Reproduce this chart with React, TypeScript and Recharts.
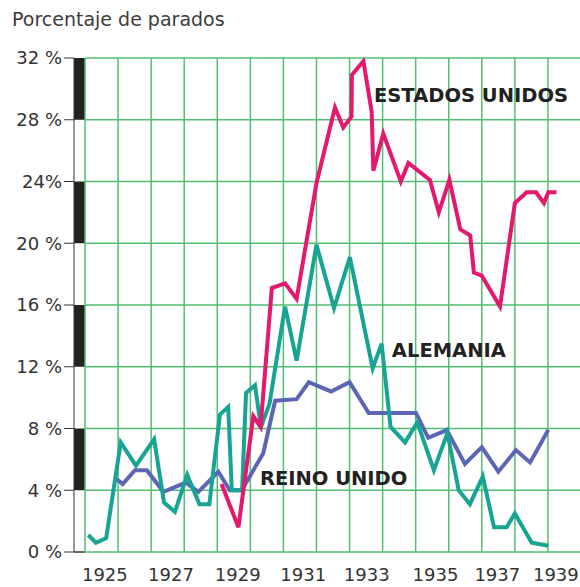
import { LineChart, Line, XAxis, YAxis, ReferenceLine, ReferenceArea, ReferenceDot } from 'recharts';

const usYears = [1929.13, 1929.64, 1930.09, 1930.31, 1930.65, 1931.05, 1931.4, 1932.0, 1932.56, 1932.81, 1933.06, 1933.07, 1933.42, 1933.67, 1933.72, 1934.02, 1934.55, 1934.78, 1935.43, 1935.7, 1936.02, 1936.35, 1936.65, 1936.76, 1937.0, 1937.55, 1938.0, 1938.36, 1938.64, 1938.88, 1939.01, 1939.26];
const usValues = [4.4, 1.6, 8.8, 8.1, 17.1, 17.4, 16.4, 23.9, 28.8, 27.5, 28.2, 30.9, 31.8, 28.5, 24.7, 27.1, 24.0, 25.2, 24.1, 22.0, 24.1, 20.9, 20.5, 18.1, 17.9, 15.9, 22.6, 23.3, 23.3, 22.6, 23.3, 23.3];

const deYears = [1925.1, 1925.33, 1925.64, 1926.08, 1926.54, 1927.09, 1927.39, 1927.72, 1928.09, 1928.46, 1928.76, 1929.08, 1929.33, 1929.44, 1929.75, 1929.87, 1930.14, 1930.32, 1930.58, 1931.05, 1931.4, 1932.0, 1932.53, 1933.01, 1933.7, 1933.97, 1934.24, 1934.68, 1935.05, 1935.55, 1935.96, 1936.3, 1936.64, 1937.03, 1937.37, 1937.75, 1938.0, 1938.51, 1939.01];
const deValues = [1.1, 0.6, 0.9, 7.1, 5.6, 7.3, 3.2, 2.6, 5.0, 3.1, 3.1, 8.9, 9.4, 4.0, 4.0, 10.3, 10.8, 8.1, 9.6, 15.9, 12.4, 19.9, 15.8, 19.1, 11.9, 13.5, 8.1, 7.1, 8.4, 5.3, 7.7, 4.0, 3.1, 4.9, 1.6, 1.6, 2.5, 0.6, 0.4];

const ukYears = [1925.96, 1926.14, 1926.51, 1926.87, 1927.37, 1928.05, 1928.43, 1929.03, 1929.38, 1929.74, 1930.39, 1930.75, 1931.4, 1931.77, 1932.44, 1933.0, 1933.58, 1935.01, 1935.38, 1935.94, 1936.49, 1937.0, 1937.5, 1938.03, 1938.46, 1939.01];
const ukValues = [4.7, 4.4, 5.3, 5.3, 3.9, 4.5, 3.9, 5.2, 4.0, 4.0, 6.4, 9.8, 9.9, 11.0, 10.4, 11.0, 9.0, 9.0, 7.4, 7.9, 5.7, 6.8, 5.2, 6.6, 5.8, 7.9];

const yTicks = [0, 4, 8, 12, 16, 20, 24, 28, 32];
const yTickLabels = ['0 %', '4 %', '8 %', '12 %', '16 %', '20 %', '24%', '28 %', '32 %'];
const gridYears = [1925, 1926, 1927, 1928, 1929, 1930, 1931, 1932, 1933, 1934, 1935, 1936, 1937, 1938, 1939];
// where each year label sits inside its column (the last one is pulled in)
const yearLabelPos = [1925.6, 1927.6, 1929.62, 1931.6, 1933.52, 1935.6, 1937.47, 1939.24];
// black/white scale bar beside the axis
const barBlocks = [[4, 8], [12, 16], [20, 24], [28, 32]];

const seriesLabels = [
  { name: 'ESTADOS UNIDOS', year: 1933.74, value: 29.15 },
  { name: 'ALEMANIA', year: 1934.28, value: 12.61 },
  { name: 'REINO UNIDO', year: 1930.29, value: 4.31 },
];

const X_START = 1924.667;
const X_END = 1940;
const GRID = '#52be72';
const FONT = '"DejaVu Sans", Verdana, sans-serif';

const toPoints = (xs: number[], ys: number[]) => xs.map((x, i) => ({ year: x, value: ys[i] }));

const usData = toPoints(usYears, usValues);
const deData = toPoints(deYears, deValues);
const ukData = toPoints(ukYears, ukValues);

const seriesLabel = (text: string) => (props: any) => {
  const { viewBox } = props;
  return (
    <text x={viewBox.x} y={viewBox.y} fill="#222" fontSize={19.5} fontWeight="bold" fontFamily={FONT}>
      {text}
    </text>
  );
};

export default function App() {
  return (
    <div style={{ position: 'absolute', left: 0, top: 0, width: 580, height: 587, overflow: 'hidden', background: '#fff' }}>
      <div style={{ position: 'absolute', left: 12, top: 8, fontFamily: FONT, fontSize: 19, lineHeight: '22px', color: '#3c3c3c' }}>
        Porcentaje de parados
      </div>
      <LineChart width={581} height={587} margin={{ top: 58, right: 0, bottom: 5, left: 0 }}>
        <XAxis
          dataKey="year"
          type="number"
          domain={[X_START, X_END]}
          ticks={yearLabelPos}
          tickFormatter={(v: number) => String(Math.floor(v))}
          axisLine={false}
          tickLine={false}
          tickSize={0}
          tickMargin={16}
          height={30}
          interval={0}
          tick={{ fill: '#333', fontSize: 18, fontFamily: FONT }}
          allowDataOverflow
        />
        <YAxis
          type="number"
          domain={[0, 32]}
          ticks={yTicks}
          tickFormatter={(v: number) => yTickLabels[yTicks.indexOf(v)]}
          width={74}
          axisLine={{ stroke: '#333', strokeWidth: 1 }}
          tickLine={{ stroke: '#333', strokeWidth: 1 }}
          tickSize={10}
          tickMargin={2}
          interval={0}
          tick={{ fill: '#333', fontSize: 18, fontFamily: FONT }}
          allowDataOverflow
        />
        {barBlocks.map(([a, b]) => (
          <ReferenceArea key={`bar-${a}`} x1={X_START} x2={1925} y1={a} y2={b} fill="#222" fillOpacity={1} stroke="none" />
        ))}
        <ReferenceLine segment={[{ x: X_START, y: 0 }, { x: 1925, y: 0 }]} stroke="#333" strokeWidth={1.5} />
        {yTicks.map((v) => (
          <ReferenceLine key={`h-${v}`} segment={[{ x: 1925, y: v }, { x: X_END, y: v }]} stroke={GRID} strokeWidth={1.5} />
        ))}
        {gridYears.map((y) => (
          <ReferenceLine key={`v-${y}`} x={y} stroke={GRID} strokeWidth={1.5} />
        ))}
        <Line data={ukData} dataKey="value" type="linear" stroke="#5c66b4" strokeWidth={4} dot={false} activeDot={false} isAnimationActive={false} />
        <Line data={deData} dataKey="value" type="linear" stroke="#17a493" strokeWidth={4} dot={false} activeDot={false} isAnimationActive={false} />
        <Line data={usData} dataKey="value" type="linear" stroke="#e4186c" strokeWidth={4} dot={false} activeDot={false} isAnimationActive={false} />
        {seriesLabels.map((s) => (
          <ReferenceDot key={s.name} x={s.year} y={s.value} r={0} fill="none" stroke="none" label={seriesLabel(s.name)} />
        ))}
      </LineChart>
    </div>
  );
}
